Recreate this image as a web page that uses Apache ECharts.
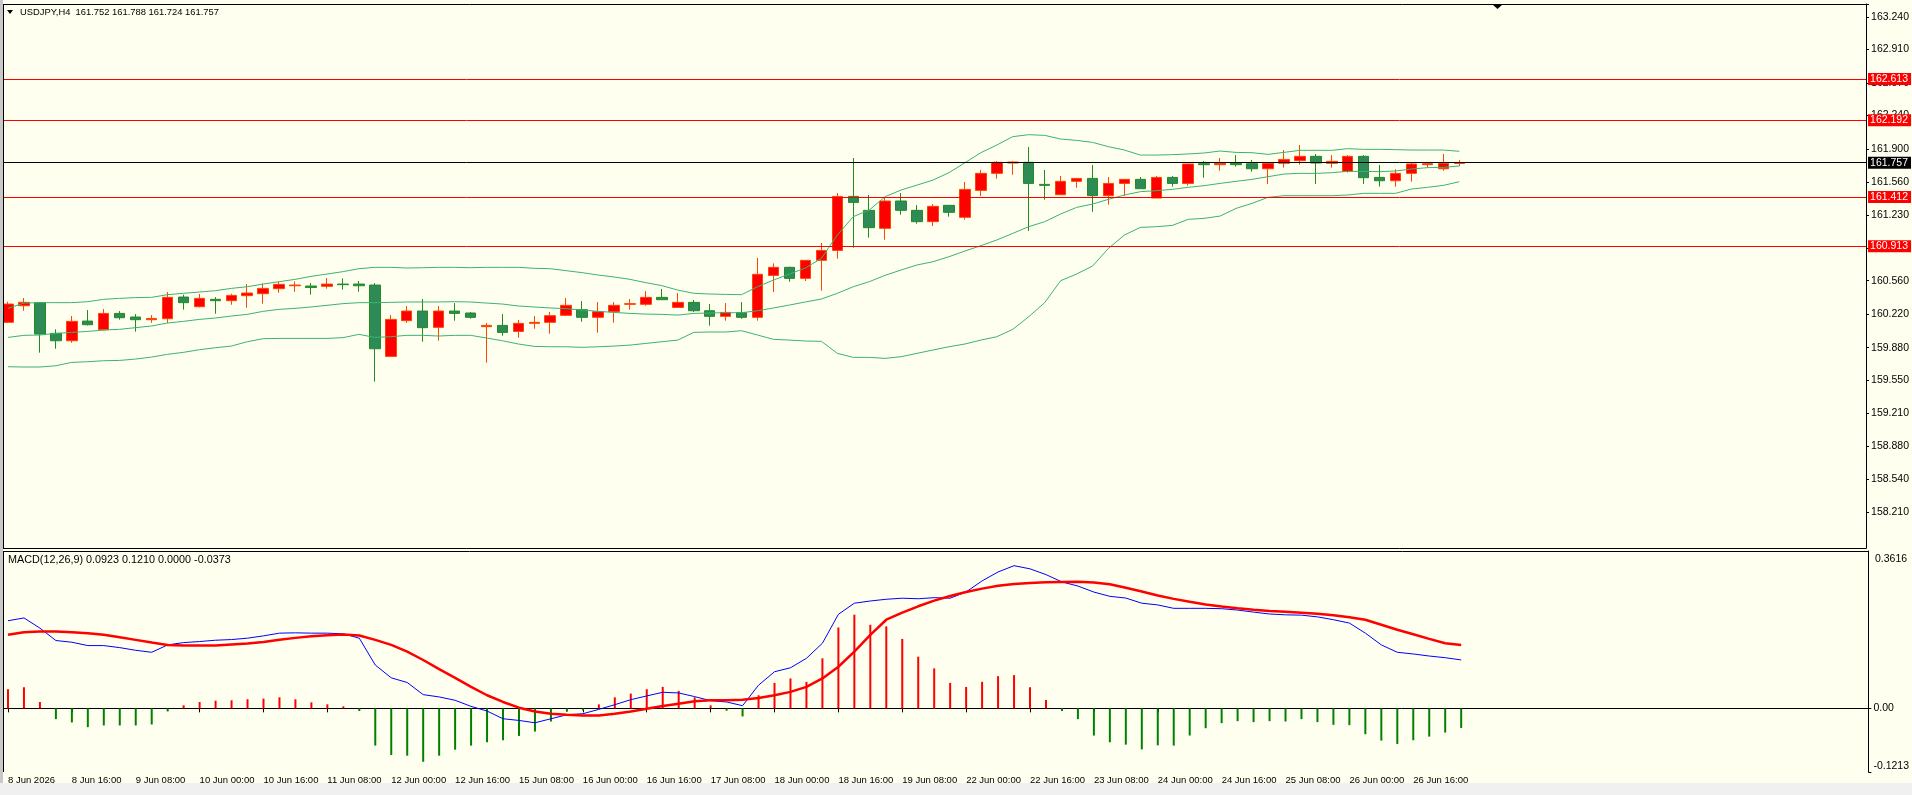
<!DOCTYPE html>
<html><head><meta charset="utf-8">
<script src="https://cdn.jsdelivr.net/npm/echarts@6/dist/echarts.min.js"></script>
<style>html,body{margin:0;padding:0;background:#FFFFF0}#c{width:1912px;height:795px}</style>
</head><body><div id="c"></div>
<script>
// ---------- DATA ----------
const titleText = 'USDJPY,H4  161.752 161.788 161.724 161.757';
const macdTitleText = 'MACD(12,26,9) 0.0923 0.1210 0.0000 -0.0373';
const xTickLabels = ['8 Jun 2026','8 Jun 16:00','9 Jun 08:00','10 Jun 00:00','10 Jun 16:00','11 Jun 08:00','12 Jun 00:00','12 Jun 16:00','15 Jun 08:00','16 Jun 00:00','16 Jun 16:00','17 Jun 08:00','18 Jun 00:00','18 Jun 16:00','19 Jun 08:00','22 Jun 00:00','22 Jun 16:00','23 Jun 08:00','24 Jun 00:00','24 Jun 16:00','25 Jun 08:00','26 Jun 00:00','26 Jun 16:00'];
const priceTicks = [163.240,162.910,162.570,162.240,161.900,161.560,161.230,160.890,160.560,160.220,159.880,159.550,159.210,158.880,158.540,158.210];
const levelValues = [162.613,162.192,161.412,160.913];
const bidValue = 161.757;
const macdTicks = [0,-0.1213];
const macdTopLabel = '0.3616';

const opens  = [160.137,160.306,160.337,160.025,159.950,160.150,160.062,160.228,160.191,160.164,160.174,160.394,160.296,160.371,160.357,160.408,160.428,160.479,160.509,160.506,160.503,160.526,160.526,160.516,159.791,160.154,160.252,160.086,160.252,160.232,160.093,160.106,160.045,160.127,160.137,160.208,160.266,160.188,160.245,160.320,160.320,160.391,160.289,160.340,160.255,160.198,160.235,160.188,160.614,160.696,160.584,160.767,160.868,161.417,161.275,161.092,161.370,161.275,161.160,161.326,161.204,161.478,161.651,161.756,161.763,161.539,161.434,161.570,161.600,161.424,161.549,161.590,161.400,161.610,161.549,161.749,161.739,161.753,161.749,161.698,161.753,161.780,161.824,161.753,161.671,161.824,161.610,161.576,161.651,161.739,161.698,161.752];
const closes = [160.323,160.340,160.018,159.950,160.147,160.113,160.228,160.184,160.164,160.177,160.391,160.337,160.381,160.357,160.411,160.435,160.482,160.523,160.516,160.492,160.526,160.520,160.509,159.869,160.167,160.252,160.083,160.252,160.228,160.188,160.106,160.035,160.127,160.137,160.205,160.310,160.188,160.245,160.310,160.327,160.391,160.367,160.340,160.255,160.198,160.238,160.188,160.625,160.696,160.584,160.767,160.868,161.417,161.356,161.099,161.370,161.275,161.160,161.316,161.255,161.488,161.651,161.763,161.766,161.549,161.529,161.570,161.600,161.424,161.549,161.590,161.495,161.610,161.549,161.746,161.739,161.753,161.739,161.698,161.753,161.793,161.824,161.756,161.773,161.824,161.607,161.576,161.651,161.746,161.749,161.753,161.757];
const lows   = [160.130,160.255,159.829,159.869,159.930,160.106,160.055,160.164,160.042,160.133,160.130,160.266,160.289,160.225,160.316,160.286,160.327,160.438,160.448,160.418,160.479,160.469,160.448,159.534,159.791,160.133,159.940,159.950,160.154,160.174,159.727,160.001,159.981,160.072,160.022,160.201,160.144,160.032,160.133,160.266,160.306,160.367,160.283,160.242,160.103,160.154,160.174,160.154,160.445,160.550,160.557,160.459,160.784,160.896,160.997,160.977,161.231,161.139,161.116,161.211,161.180,161.421,161.597,161.637,161.065,161.383,161.434,161.505,161.261,161.333,161.424,161.495,161.400,161.516,161.526,161.607,161.678,161.719,161.668,161.543,161.709,161.739,161.543,161.709,161.658,161.543,161.516,161.516,161.566,161.709,161.678,161.724];
const highs  = [160.347,160.384,160.343,160.066,160.201,160.262,160.272,160.252,160.221,160.211,160.445,160.418,160.425,160.394,160.428,160.526,160.533,160.553,160.553,160.536,160.587,160.584,160.557,160.536,160.211,160.303,160.374,160.303,160.333,160.242,160.130,160.221,160.161,160.201,160.242,160.384,160.354,160.343,160.343,160.374,160.455,160.476,160.435,160.364,160.323,160.333,160.343,160.791,160.736,160.703,160.770,160.943,161.451,161.807,161.431,161.407,161.451,161.329,161.339,161.329,161.563,161.685,161.776,161.773,161.919,161.685,161.624,161.604,161.736,161.614,161.593,161.614,161.624,161.624,161.749,161.776,161.807,161.837,161.787,161.763,161.888,161.939,161.848,161.837,161.837,161.837,161.736,161.692,161.763,161.763,161.848,161.788];

const bbUpper  = [160.279,160.333,160.337,160.337,160.337,160.347,160.371,160.381,160.388,160.391,160.418,160.432,160.445,160.459,160.482,160.499,160.526,160.550,160.574,160.604,160.628,160.652,160.682,160.696,160.696,160.689,160.692,160.696,160.696,160.692,160.696,160.696,160.696,160.686,160.682,160.662,160.642,160.618,160.598,160.574,160.540,160.510,160.465,160.432,160.425,160.421,160.418,160.499,160.567,160.628,160.689,160.787,161.024,161.211,161.278,161.414,161.482,161.532,161.583,161.658,161.759,161.861,161.939,162.024,162.044,162.037,162.000,161.986,161.966,161.922,161.888,161.837,161.837,161.841,161.848,161.858,161.878,161.864,161.861,161.844,161.864,161.885,161.885,161.885,161.902,161.895,161.895,161.892,161.888,161.888,161.888,161.875];
const bbMiddle = [159.984,160.005,160.008,160.025,160.035,160.045,160.059,160.066,160.083,160.100,160.130,160.147,160.167,160.181,160.201,160.218,160.249,160.269,160.279,160.293,160.310,160.327,160.337,160.337,160.340,160.344,160.344,160.344,160.347,160.344,160.333,160.323,160.303,160.293,160.283,160.276,160.262,160.249,160.238,160.228,160.221,160.218,160.211,160.228,160.232,160.235,160.235,160.255,160.283,160.313,160.344,160.374,160.432,160.499,160.550,160.615,160.669,160.720,160.753,160.804,160.862,160.916,160.974,161.041,161.109,161.160,161.238,161.305,161.339,161.387,161.431,161.465,161.475,161.488,161.509,161.526,161.549,161.570,161.590,161.617,161.644,161.651,161.651,161.658,161.671,161.671,161.668,161.675,161.695,161.709,161.712,161.726];
const bbLower  = [159.686,159.683,159.683,159.696,159.730,159.737,159.747,159.750,159.764,159.784,159.812,159.832,159.859,159.879,159.896,159.940,159.971,159.974,159.974,159.974,159.974,159.981,160.015,159.984,159.991,160.005,160.005,159.998,160.005,160.005,159.978,159.950,159.917,159.893,159.889,159.889,159.883,159.889,159.896,159.906,159.923,159.940,159.957,160.035,160.039,160.039,160.052,160.008,159.964,159.957,159.947,159.944,159.822,159.781,159.781,159.771,159.788,159.822,159.856,159.889,159.917,159.957,159.991,160.066,160.194,160.337,160.560,160.628,160.709,160.889,161.024,161.102,161.109,161.122,161.184,161.194,161.217,161.295,161.346,161.407,161.424,161.424,161.424,161.424,161.431,161.448,161.448,161.448,161.492,161.509,161.529,161.566];

const macdHist   = [0.0365,0.0403,0.0122,-0.0205,-0.0269,-0.0358,-0.0326,-0.0326,-0.0326,-0.0307,-0.0058,0.0058,0.0122,0.0147,0.0154,0.0173,0.0186,0.0211,0.0173,0.0115,0.0077,0.0038,-0.0051,-0.0710,-0.0890,-0.0902,-0.1018,-0.0902,-0.0787,-0.0710,-0.0646,-0.0608,-0.0525,-0.0442,-0.0250,-0.0064,-0.0038,0.0077,0.0211,0.0282,0.0365,0.0410,0.0333,0.0211,0.0058,-0.0045,-0.0154,0.0250,0.0486,0.0570,0.0506,0.0954,0.1542,0.1786,0.1594,0.1562,0.1325,0.0986,0.0762,0.0486,0.0410,0.0506,0.0614,0.0634,0.0403,0.0160,-0.0051,-0.0205,-0.0518,-0.0646,-0.0691,-0.0781,-0.0704,-0.0710,-0.0518,-0.0378,-0.0282,-0.0243,-0.0262,-0.0243,-0.0250,-0.0205,-0.0262,-0.0314,-0.0320,-0.0493,-0.0614,-0.0678,-0.0608,-0.0538,-0.0461,-0.0373];
const macdMain   = [0.1670,0.1724,0.1530,0.1293,0.1261,0.1197,0.1197,0.1158,0.1107,0.1069,0.1210,0.1254,0.1274,0.1299,0.1312,0.1338,0.1382,0.1434,0.1440,0.1434,0.1434,0.1421,0.1338,0.0826,0.0582,0.0493,0.0262,0.0218,0.0154,0.0038,-0.0051,-0.0198,-0.0230,-0.0275,-0.0198,-0.0122,-0.0102,-0.0019,0.0070,0.0166,0.0237,0.0307,0.0294,0.0224,0.0147,0.0122,0.0051,0.0442,0.0698,0.0774,0.0954,0.1242,0.1793,0.2005,0.2047,0.2080,0.2100,0.2090,0.2110,0.2100,0.2220,0.2430,0.2600,0.2720,0.2660,0.2550,0.2410,0.2332,0.2217,0.2136,0.2103,0.2005,0.1972,0.1907,0.1907,0.1907,0.1900,0.1874,0.1835,0.1799,0.1783,0.1777,0.1744,0.1690,0.1626,0.1434,0.1210,0.1069,0.1037,0.0998,0.0966,0.0923];
const macdSignal = [0.1402,0.1453,0.1466,0.1466,0.1453,0.1434,0.1402,0.1357,0.1306,0.1254,0.1210,0.1197,0.1197,0.1197,0.1216,0.1235,0.1267,0.1306,0.1344,0.1376,0.1395,0.1408,0.1389,0.1306,0.1210,0.1082,0.0922,0.0749,0.0582,0.0410,0.0250,0.0122,0.0013,-0.0058,-0.0102,-0.0122,-0.0134,-0.0134,-0.0102,-0.0058,-0.0006,0.0045,0.0090,0.0134,0.0154,0.0154,0.0166,0.0198,0.0250,0.0314,0.0410,0.0570,0.0794,0.1082,0.1402,0.1690,0.1825,0.1946,0.2054,0.2142,0.2218,0.2283,0.2338,0.2371,0.2391,0.2404,0.2410,0.2414,0.2398,0.2365,0.2299,0.2227,0.2152,0.2087,0.2031,0.1982,0.1940,0.1907,0.1880,0.1858,0.1842,0.1825,0.1802,0.1777,0.1737,0.1690,0.1594,0.1498,0.1414,0.1325,0.1242,0.1210];

// ---------- CHART ----------
const SLOTS = 117; // visible bar slots incl. right shift
const cats = Array.from({length: SLOTS}, (_, i) => String(i));
const FONT = "'Liberation Sans',Arial,sans-serif";
const candleData = opens.map((o, i) => [o, closes[i], lows[i], highs[i]]);

const chart = echarts.init(document.getElementById('c'), null, {renderer: 'canvas', width: 1912, height: 795});

const levelLine = (v, bg) => ({
  yAxis: v,
  lineStyle: {color: bg, width: 1, type: 'solid'},
  label: {show: true, position: 'end', distance: 2, formatter: () => v.toFixed(3),
    color: '#FFFFFF', backgroundColor: bg, padding: [1, 3, 0, 2], fontSize: 10.5, fontFamily: FONT}
});

const option = {
  animation: false,
  backgroundColor: '#FFFFF0',
  grid: [
    {left: -3, right: 43, top: 4, height: 544, show: false},
    {left: -3, right: 43, top: 551, height: 221, show: false}
  ],
  xAxis: [
    {type: 'category', gridIndex: 0, data: cats, boundaryGap: true,
      axisLine: {show: true, lineStyle: {color: '#000', width: 1}}, axisTick: {show: false}, axisLabel: {show: false}, splitLine: {show: false}},
    {type: 'category', gridIndex: 1, data: cats, boundaryGap: true,
      axisLine: {show: true, lineStyle: {color: '#000', width: 1}},
      axisTick: {show: true, alignWithLabel: true, length: 4, lineStyle: {color: '#000'},
        interval: (i) => i % 4 === 0 && i / 4 < xTickLabels.length},
      axisLabel: {show: true, interval: 0, align: 'left', margin: 3, color: '#000', fontSize: 9.5, fontFamily: FONT,
        formatter: (v, i) => (i % 4 === 0 && i / 4 < xTickLabels.length) ? xTickLabels[i / 4] : ''},
      splitLine: {show: false}}
  ],
  yAxis: [
    {type: 'value', gridIndex: 0, position: 'right', min: 157.844, max: 163.372, scale: true,
      axisLine: {show: true, lineStyle: {color: '#000', width: 1}},
      axisTick: {show: true, length: 3, customValues: priceTicks, lineStyle: {color: '#000'}},
      axisLabel: {show: true, customValues: priceTicks, margin: 5, color: '#000', fontSize: 10.5, fontFamily: FONT,
        formatter: (v) => v.toFixed(3)},
      splitLine: {show: false}},
    {type: 'value', gridIndex: 1, position: 'right', min: -0.1213, max: 0.3000,
      axisLine: {show: true, lineStyle: {color: '#000', width: 1}},
      axisTick: {show: true, length: 3, customValues: macdTicks, lineStyle: {color: '#000'}},
      axisLabel: {show: true, customValues: macdTicks, margin: 5, color: '#000', fontSize: 10.5, fontFamily: FONT,
        formatter: (v) => v === 0 ? '0.00' : '{lo|' + v.toFixed(4) + '}',
        rich: {lo: {padding: [0, 0, 12, 0], fontSize: 10.5, fontFamily: FONT, color: '#000'}}},
      splitLine: {show: false}}
  ],
  series: [
    {type: 'candlestick', xAxisIndex: 0, yAxisIndex: 0, data: candleData, barWidth: 11, z: 3,
      itemStyle: {color: '#FF0000', color0: '#2E8B57', borderColor: '#FF4500', borderColor0: '#228B22', borderWidth: 1,
        borderColorDoji: '#FF4500'},
      markLine: {silent: true, symbol: ['none', 'none'], animation: false,
        data: levelValues.map(v => levelLine(v, '#FF0000')).concat([levelLine(bidValue, '#000000')])}},
    {type: 'line', xAxisIndex: 0, yAxisIndex: 0, data: bbUpper, symbol: 'none', z: 4, lineStyle: {color: '#3CB371', width: 1}},
    {type: 'line', xAxisIndex: 0, yAxisIndex: 0, data: bbMiddle, symbol: 'none', z: 4, lineStyle: {color: '#3CB371', width: 1}},
    {type: 'line', xAxisIndex: 0, yAxisIndex: 0, data: bbLower, symbol: 'none', z: 4, lineStyle: {color: '#3CB371', width: 1}},
    {type: 'bar', xAxisIndex: 1, yAxisIndex: 1, barWidth: 2,
      data: macdHist.map(v => ({value: v, itemStyle: {color: v >= 0 ? '#FF0000' : '#008000'}}))},
    {type: 'line', xAxisIndex: 1, yAxisIndex: 1, data: macdMain, symbol: 'none', z: 4, lineStyle: {color: '#0000FF', width: 1}},
    {type: 'line', xAxisIndex: 1, yAxisIndex: 1, data: macdSignal, symbol: 'none', z: 5, lineStyle: {color: '#FF0000', width: 2.5}}
  ],
  graphic: [
    {type: 'rect', z: 100, shape: {x: 0, y: 0, width: 3, height: 795}, style: {fill: '#C8C8C8'}},
    {type: 'rect', z: 100, shape: {x: 0, y: 783, width: 1912, height: 12}, style: {fill: '#F0F0F0'}},
    {type: 'line', z: 100, shape: {x1: 3.5, y1: 4, x2: 3.5, y2: 548}, style: {stroke: '#000', lineWidth: 1}},
    {type: 'line', z: 100, shape: {x1: 3.5, y1: 551, x2: 3.5, y2: 772}, style: {stroke: '#000', lineWidth: 1}},
    {type: 'line', z: 100, shape: {x1: 3, y1: 4.5, x2: 1869, y2: 4.5}, style: {stroke: '#000', lineWidth: 1}},
    {type: 'line', z: 100, shape: {x1: 3, y1: 551.5, x2: 1869, y2: 551.5}, style: {stroke: '#000', lineWidth: 1}},
    {type: 'polygon', z: 100, shape: {points: [[7, 10], [13, 10], [10, 14]]}, style: {fill: '#000'}},
    {type: 'text', z: 100, x: 20, y: 12, style: {text: titleText, fill: '#000', font: '9.4px ' + FONT, verticalAlign: 'middle'}},
    {type: 'text', z: 100, x: 8, y: 560, style: {text: macdTitleText, fill: '#000', font: '10.8px ' + FONT, verticalAlign: 'middle'}},
    {type: 'text', z: 100, x: 1875, y: 559, style: {text: macdTopLabel, fill: '#000', font: '10.5px ' + FONT, verticalAlign: 'middle'}},
    {type: 'polygon', z: 100, shape: {points: [[1492, 4], [1503, 4], [1497.5, 9]]}, style: {fill: '#000'}}
  ]
};
chart.setOption(option);
</script>
</body></html>
